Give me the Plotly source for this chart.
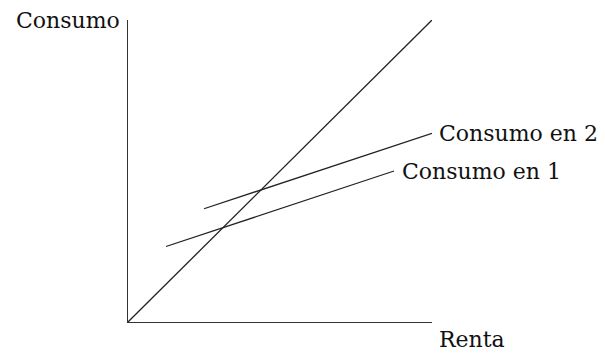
import plotly.graph_objects as go

# 45-degree line and the two consumption functions
renta_45 = [0, 10]
consumo_45 = [0, 10]
renta_1 = [1.25, 8.75]
consumo_1 = [2.5, 5.0]
renta_2 = [2.5, 10]
consumo_2 = [3.75, 6.25]

etiquetas = ["Consumo en 1", "Consumo en 2"]

font = dict(family="DejaVu Serif", size=22, color="#111")
line = dict(color="#222", width=1.3)

fig = go.Figure()
fig.add_trace(go.Scatter(x=renta_45, y=consumo_45, mode="lines", line=line))
fig.add_trace(go.Scatter(x=renta_1, y=consumo_1, mode="lines", line=line))
fig.add_trace(go.Scatter(x=renta_2, y=consumo_2, mode="lines", line=line))

fig.add_annotation(x=renta_1[-1], y=consumo_1[-1], text=etiquetas[0], showarrow=False,
                   xanchor="left", yanchor="middle", xshift=6, font=font)
fig.add_annotation(x=renta_2[-1], y=consumo_2[-1], text=etiquetas[1], showarrow=False,
                   xanchor="left", yanchor="middle", xshift=5, font=font)
fig.add_annotation(x=renta_45[-1], y=0, text="Renta", showarrow=False,
                   xanchor="left", yanchor="top", xshift=5, yshift=-3, font=font)
fig.add_annotation(x=0, y=consumo_45[-1], text="Consumo", showarrow=False,
                   xanchor="right", yanchor="middle", xshift=-6, font=font)

axis = dict(range=[0, 10], showgrid=False, zeroline=False, showticklabels=False,
            ticks="", showline=True, linecolor="#333", linewidth=1.3, fixedrange=True)
fig.update_layout(
    width=605, height=358,
    margin=dict(l=128, r=173, t=20, b=36),
    plot_bgcolor="white", paper_bgcolor="white",
    showlegend=False,
    xaxis=axis, yaxis=axis,
)
fig.write_html("out.html", config={"displayModeBar": False},
               post_script="document.body.style.margin='0';")
